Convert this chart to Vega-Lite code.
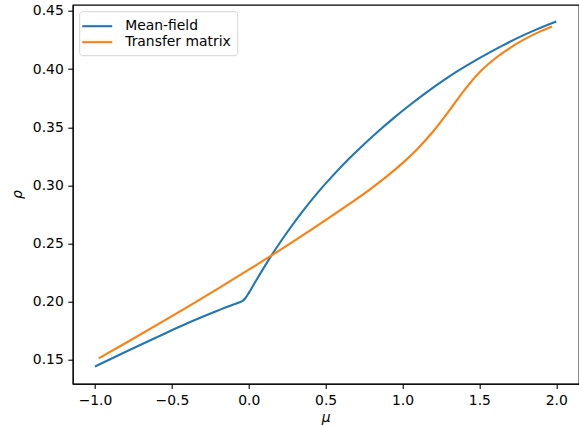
{
  "$schema": "https://vega.github.io/schema/vega-lite/v6.json",
  "width": 506,
  "height": 379,
  "autosize": {"type": "none"},
  "padding": {"left": 72.7, "top": 4.7, "right": 0.3, "bottom": 43.3},
  "background": "white",
  "config": {
    "view": {"stroke": "black", "strokeWidth": 1.1},
    "font": "DejaVu Sans",
    "axis": {
      "grid": false,
      "domainColor": "black",
      "domainWidth": 1.1,
      "tickColor": "black",
      "tickWidth": 1.1,
      "tickSize": 4.9,
      "labelFont": "DejaVu Sans",
      "labelFontSize": 13.9,
      "labelColor": "black",
      "labelPadding": 4.5,
      "titleFont": "DejaVu Sans",
      "titleFontSize": 13.9,
      "titleFontWeight": "normal",
      "titleFontStyle": "italic",
      "titleColor": "black"
    }
  },
  "data": {
    "values": [
      {"mu": -1.0, "rho": 0.1444, "series": "Mean-field"},
      {"mu": -0.8, "rho": 0.1571, "series": "Mean-field"},
      {"mu": -0.6, "rho": 0.1694, "series": "Mean-field"},
      {"mu": -0.4, "rho": 0.1815, "series": "Mean-field"},
      {"mu": -0.2, "rho": 0.1925, "series": "Mean-field"},
      {"mu": -0.1, "rho": 0.1977, "series": "Mean-field"},
      {"mu": -0.06, "rho": 0.1996, "series": "Mean-field"},
      {"mu": -0.04, "rho": 0.2008, "series": "Mean-field"},
      {"mu": -0.02, "rho": 0.2035, "series": "Mean-field"},
      {"mu": 0.0, "rho": 0.2075, "series": "Mean-field"},
      {"mu": 0.05, "rho": 0.2187, "series": "Mean-field"},
      {"mu": 0.15, "rho": 0.2403, "series": "Mean-field"},
      {"mu": 0.25, "rho": 0.2598, "series": "Mean-field"},
      {"mu": 0.35, "rho": 0.2778, "series": "Mean-field"},
      {"mu": 0.45, "rho": 0.2941, "series": "Mean-field"},
      {"mu": 0.55, "rho": 0.3089, "series": "Mean-field"},
      {"mu": 0.65, "rho": 0.3227, "series": "Mean-field"},
      {"mu": 0.75, "rho": 0.3355, "series": "Mean-field"},
      {"mu": 0.85, "rho": 0.3475, "series": "Mean-field"},
      {"mu": 0.95, "rho": 0.3588, "series": "Mean-field"},
      {"mu": 1.05, "rho": 0.3694, "series": "Mean-field"},
      {"mu": 1.15, "rho": 0.3794, "series": "Mean-field"},
      {"mu": 1.25, "rho": 0.3888, "series": "Mean-field"},
      {"mu": 1.35, "rho": 0.3976, "series": "Mean-field"},
      {"mu": 1.45, "rho": 0.4056, "series": "Mean-field"},
      {"mu": 1.55, "rho": 0.4131, "series": "Mean-field"},
      {"mu": 1.65, "rho": 0.4202, "series": "Mean-field"},
      {"mu": 1.75, "rho": 0.4269, "series": "Mean-field"},
      {"mu": 1.85, "rho": 0.4329, "series": "Mean-field"},
      {"mu": 1.95, "rho": 0.4384, "series": "Mean-field"},
      {"mu": 2.0, "rho": 0.4409, "series": "Mean-field"},
      {"mu": -0.976, "rho": 0.1513, "series": "Transfer matrix"},
      {"mu": -0.8, "rho": 0.1646, "series": "Transfer matrix"},
      {"mu": -0.6, "rho": 0.1799, "series": "Transfer matrix"},
      {"mu": -0.4, "rho": 0.1955, "series": "Transfer matrix"},
      {"mu": -0.2, "rho": 0.2114, "series": "Transfer matrix"},
      {"mu": 0.0, "rho": 0.2276, "series": "Transfer matrix"},
      {"mu": 0.2, "rho": 0.2442, "series": "Transfer matrix"},
      {"mu": 0.4, "rho": 0.2614, "series": "Transfer matrix"},
      {"mu": 0.6, "rho": 0.2792, "series": "Transfer matrix"},
      {"mu": 0.8, "rho": 0.2978, "series": "Transfer matrix"},
      {"mu": 0.9, "rho": 0.3080, "series": "Transfer matrix"},
      {"mu": 1.0, "rho": 0.3192, "series": "Transfer matrix"},
      {"mu": 1.1, "rho": 0.3318, "series": "Transfer matrix"},
      {"mu": 1.2, "rho": 0.3466, "series": "Transfer matrix"},
      {"mu": 1.3, "rho": 0.3636, "series": "Transfer matrix"},
      {"mu": 1.4, "rho": 0.3816, "series": "Transfer matrix"},
      {"mu": 1.5, "rho": 0.3971, "series": "Transfer matrix"},
      {"mu": 1.6, "rho": 0.4089, "series": "Transfer matrix"},
      {"mu": 1.7, "rho": 0.4183, "series": "Transfer matrix"},
      {"mu": 1.8, "rho": 0.4262, "series": "Transfer matrix"},
      {"mu": 1.9, "rho": 0.4327, "series": "Transfer matrix"},
      {"mu": 1.972, "rho": 0.4367, "series": "Transfer matrix"}
    ]
  },
  "mark": {"type": "line", "strokeWidth": 2.1, "interpolate": "monotone"},
  "encoding": {
    "x": {
      "field": "mu",
      "type": "quantitative",
      "title": "μ",
      "scale": {"domain": [-1.145, 2.146], "nice": false, "zero": false},
      "axis": {"values": [-1, -0.5, 0, 0.5, 1, 1.5, 2], "format": ".1f", "titlePadding": 3}
    },
    "y": {
      "field": "rho",
      "type": "quantitative",
      "title": "ρ",
      "scale": {"domain": [0.1296, 0.4554], "nice": false, "zero": false},
      "axis": {"values": [0.15, 0.2, 0.25, 0.3, 0.35, 0.4, 0.45], "format": ".2f", "titlePadding": 8}
    },
    "color": {
      "field": "series",
      "type": "nominal",
      "scale": {"domain": ["Mean-field", "Transfer matrix"], "range": ["#1f77b4", "#ff7f0e"]},
      "legend": {
        "title": null,
        "orient": "none",
        "legendX": 6.5,
        "legendY": 6.5,
        "symbolType": "M-2,0H2",
        "symbolSize": 225,
        "symbolOffset": 3,
        "symbolStrokeWidth": 2.1,
        "labelFont": "DejaVu Sans",
        "labelFontSize": 13.9,
        "labelColor": "black",
        "labelOffset": 19,
        "rowPadding": 0,
        "padding": 6,
        "fillColor": "white",
        "strokeColor": "#d5d5d5",
        "cornerRadius": 3
      }
    }
  }
}
